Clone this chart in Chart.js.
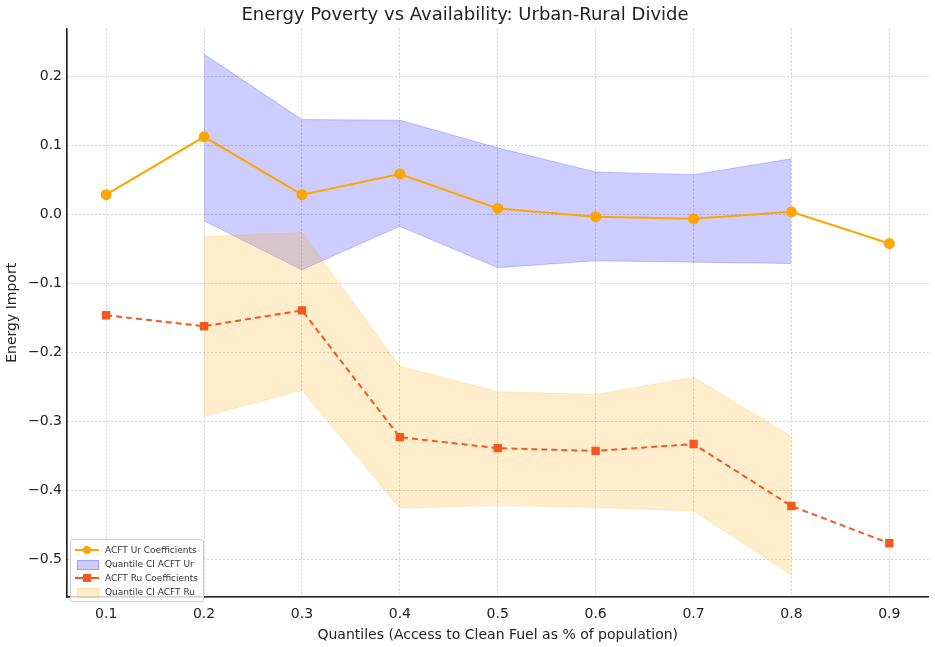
<!DOCTYPE html>
<html>
<head>
<meta charset="utf-8">
<script src="https://cdn.jsdelivr.net/npm/chart.js@4/dist/chart.umd.min.js"></script>
<style>
    body { margin: 0; background: #fff; }
    #wrap { position: relative; width: 935px; height: 647px; }
    .legend {
        position: absolute; left: 70px; top: 539px; width: 128px; padding: 3px 0 2px 4px;
        border: 1px solid #ccc; border-radius: 3px; background: rgba(255,255,255,0.8);
        font: 9px "DejaVu Sans", sans-serif; color: #333;
    }
    .legend-row { display: flex; align-items: center; height: 14px; }
    .legend-key { width: 24px; height: 10px; margin-right: 6px; position: relative; }
</style>
</head>
<body>
<div id="wrap">
    <canvas id="chart" width="935" height="647"></canvas>
    <div class="legend" id="legend"></div>
</div>
<script>
const quantiles = [0.1, 0.2, 0.3, 0.4, 0.5, 0.6, 0.7, 0.8, 0.9];
const ciQuantiles = [0.2, 0.3, 0.4, 0.5, 0.6, 0.7, 0.8];
const xTicks = [0.1, 0.2, 0.3, 0.4, 0.5, 0.6, 0.7, 0.8, 0.9];
const yTicks = [-0.5, -0.4, -0.3, -0.2, -0.1, 0.0, 0.1, 0.2];

const urCoef = [0.029, 0.113, 0.029, 0.059, 0.009, -0.003, -0.006, 0.004, -0.042];
const urUpper = [0.233, 0.138, 0.137, 0.097, 0.062, 0.058, 0.081];
const urLower = [-0.009, -0.080, -0.017, -0.077, -0.067, -0.069, -0.071];

const ruCoef = [-0.146, -0.162, -0.139, -0.323, -0.339, -0.343, -0.333, -0.423, -0.477];
const ruUpper = [-0.032, -0.026, -0.220, -0.257, -0.261, -0.236, -0.322];
const ruLower = [-0.293, -0.255, -0.426, -0.422, -0.425, -0.430, -0.523];

const urColor = '#FFA500';
const ruColor = '#F4581E';
const urBand = 'rgba(0, 0, 255, 0.2)';
const ruBand = 'rgba(255, 165, 0, 0.2)';

function toPoints(xs, ys) {
    return xs.map((x, i) => ({ x: x, y: ys[i] }));
}

const ctx = document.getElementById('chart').getContext('2d');
new Chart(ctx, {
    type: 'line',
    data: {
        datasets: [
            {
                label: 'ACFT Ur Coefficients',
                data: toPoints(quantiles, urCoef),
                borderColor: urColor, backgroundColor: urColor,
                borderWidth: 2, pointRadius: 4.5, pointStyle: 'circle', order: 0
            },
            {
                label: 'ur lower',
                data: toPoints(ciQuantiles, urLower),
                borderColor: urBand, borderWidth: 1, pointRadius: 0, fill: false, order: 2
            },
            {
                label: 'Quantile CI ACFT Ur',
                data: toPoints(ciQuantiles, urUpper),
                borderColor: urBand, backgroundColor: urBand,
                borderWidth: 1, pointRadius: 0, fill: 1, order: 2
            },
            {
                label: 'ACFT Ru Coefficients',
                data: toPoints(quantiles, ruCoef),
                borderColor: ruColor, backgroundColor: ruColor,
                borderWidth: 2, borderDash: [6, 4], pointRadius: 4.5, pointStyle: 'rect', order: 0
            },
            {
                label: 'ru lower',
                data: toPoints(ciQuantiles, ruLower),
                borderColor: ruBand, borderWidth: 1, pointRadius: 0, fill: false, order: 1
            },
            {
                label: 'Quantile CI ACFT Ru',
                data: toPoints(ciQuantiles, ruUpper),
                borderColor: ruBand, backgroundColor: ruBand,
                borderWidth: 1, pointRadius: 0, fill: 4, order: 1
            }
        ]
    },
    options: {
        responsive: false,
        animation: false,
        layout: { padding: { top: 0, right: 5, left: 0, bottom: 0 } },
        plugins: {
            legend: { display: false },
            tooltip: { enabled: false },
            title: {
                display: true,
                text: 'Energy Poverty vs Availability: Urban-Rural Divide',
                color: '#222',
                font: { family: 'DejaVu Sans', size: 18, weight: 'normal' },
                padding: { top: 5, bottom: 2 }
            }
        },
        scales: {
            x: {
                type: 'linear', min: 0.06, max: 0.94,
                afterBuildTicks: scale => { scale.ticks = xTicks.map(v => ({ value: v })); },
                afterFit: scale => { scale.height = 50; },
                ticks: {
                    callback: v => v.toFixed(1),
                    color: '#222', font: { family: 'DejaVu Sans', size: 14 }, padding: 9, maxRotation: 0
                },
                grid: { color: '#d0d0d0', tickLength: 0, drawTicks: false },
                border: { display: true, color: '#222', width: 1.2, dash: [2, 2], dashOffset: 0 },
                title: {
                    display: true, text: 'Quantiles (Access to Clean Fuel as % of population)',
                    color: '#222', font: { family: 'DejaVu Sans', size: 14 }, padding: { top: 0, bottom: 3 }
                }
            },
            y: {
                min: -0.555, max: 0.27,
                afterBuildTicks: scale => { scale.ticks = yTicks.map(v => ({ value: v })); },
                afterFit: scale => { scale.width = 67; },
                ticks: {
                    callback: v => (v < 0 ? '\u2212' + Math.abs(v).toFixed(1) : v.toFixed(1)),
                    color: '#222', font: { family: 'DejaVu Sans', size: 14 }, padding: 5
                },
                grid: { color: '#d0d0d0', drawTicks: false },
                border: { display: true, color: '#222', width: 1.2, dash: [2, 2] },
                title: {
                    display: true, text: 'Energy Import',
                    color: '#222', font: { family: 'DejaVu Sans', size: 14 }, padding: { top: 4, bottom: 0 }
                }
            }
        }
    },
    plugins: [{
        id: 'solidAxes',
        afterDraw(chart) {
            const a = chart.chartArea;
            const c = chart.ctx;
            c.save();
            c.strokeStyle = '#222';
            c.lineWidth = 1.2;
            c.setLineDash([]);
            c.beginPath();
            c.moveTo(a.left, a.top);
            c.lineTo(a.left, a.bottom);
            c.lineTo(a.right, a.bottom);
            c.stroke();
            c.restore();
        }
    }]
});

const legendItems = [
    { text: 'ACFT Ur Coefficients', type: 'line', color: urColor, marker: '50%' },
    { text: 'Quantile CI ACFT Ur', type: 'band', color: urBand },
    { text: 'ACFT Ru Coefficients', type: 'line', color: ruColor, marker: '0' },
    { text: 'Quantile CI ACFT Ru', type: 'band', color: ruBand }
];
document.getElementById('legend').innerHTML = legendItems.map(item => {
    let key;
    if (item.type === 'line') {
        key = `<div class="legend-key">
            <div style="position:absolute;left:0;top:4px;width:24px;height:2px;background:${item.color}"></div>
            <div style="position:absolute;left:8px;top:1px;width:8px;height:8px;border-radius:${item.marker};background:${item.color}"></div>
        </div>`;
    } else {
        key = `<div class="legend-key"><div style="position:absolute;left:2px;top:1px;width:20px;height:8px;background:${item.color};border:1px solid ${item.color}"></div></div>`;
    }
    return `<div class="legend-row">${key}<span>${item.text}</span></div>`;
}).join('');
</script>
</body>
</html>
